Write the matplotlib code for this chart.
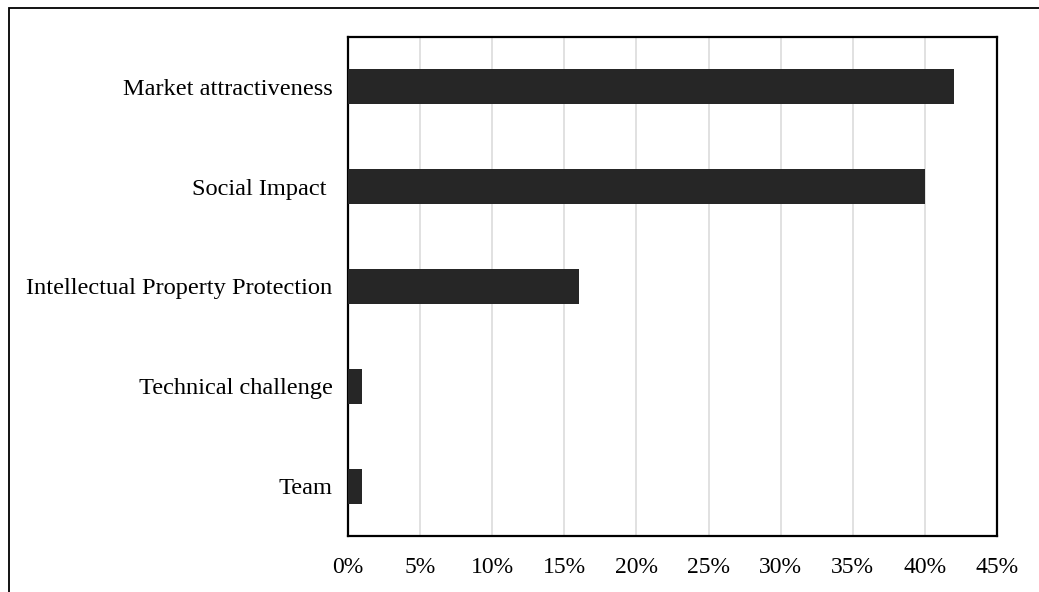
import matplotlib.pyplot as plt
from matplotlib.patches import Rectangle
from matplotlib.ticker import FuncFormatter

categories = ["Market attractiveness", "Social Impact ", "Intellectual Property Protection",
              "Technical challenge", "Team"]
shares = [42, 40, 16, 1, 1]
x_ticks = [0, 5, 10, 15, 20, 25, 30, 35, 40, 45]

plt.rcParams['font.family'] = ['Liberation Serif', 'DejaVu Serif']

fig = plt.figure(figsize=(10.39, 5.92), dpi=100)
ax = fig.add_axes([348 / 1039, 1 - 536 / 592, (997 - 348) / 1039, (536 - 37) / 592])

# outer frame, runs off the right and bottom edges
fig.patches.append(Rectangle((9 / 1039, -0.1), 1.2, 1.1 - 8 / 592, transform=fig.transFigure,
                             fill=False, edgecolor='black', linewidth=1.3, zorder=0))

pos = list(range(len(categories)))[::-1]
ax.barh(pos, shares, height=0.35, color='#262626', zorder=3)

ax.set_xlim(0, 45)
ax.set_ylim(-0.5, 4.5)
ax.set_xticks(x_ticks)
ax.xaxis.set_major_formatter(FuncFormatter(lambda v, p: f"{v:.0f}%"))
ax.set_yticks(pos)
ax.set_yticklabels(categories)
ax.tick_params(axis='both', length=0, colors='black')
ax.tick_params(axis='x', pad=15, labelsize=17)
ax.tick_params(axis='y', pad=11, labelsize=17.6)
ax.grid(axis='x', color='#d9d9d9', linewidth=1.1, zorder=0)
for s in ax.spines.values():
    s.set_linewidth(1.6)
    s.set_color('black')

fig.savefig('out.png', dpi=100)
